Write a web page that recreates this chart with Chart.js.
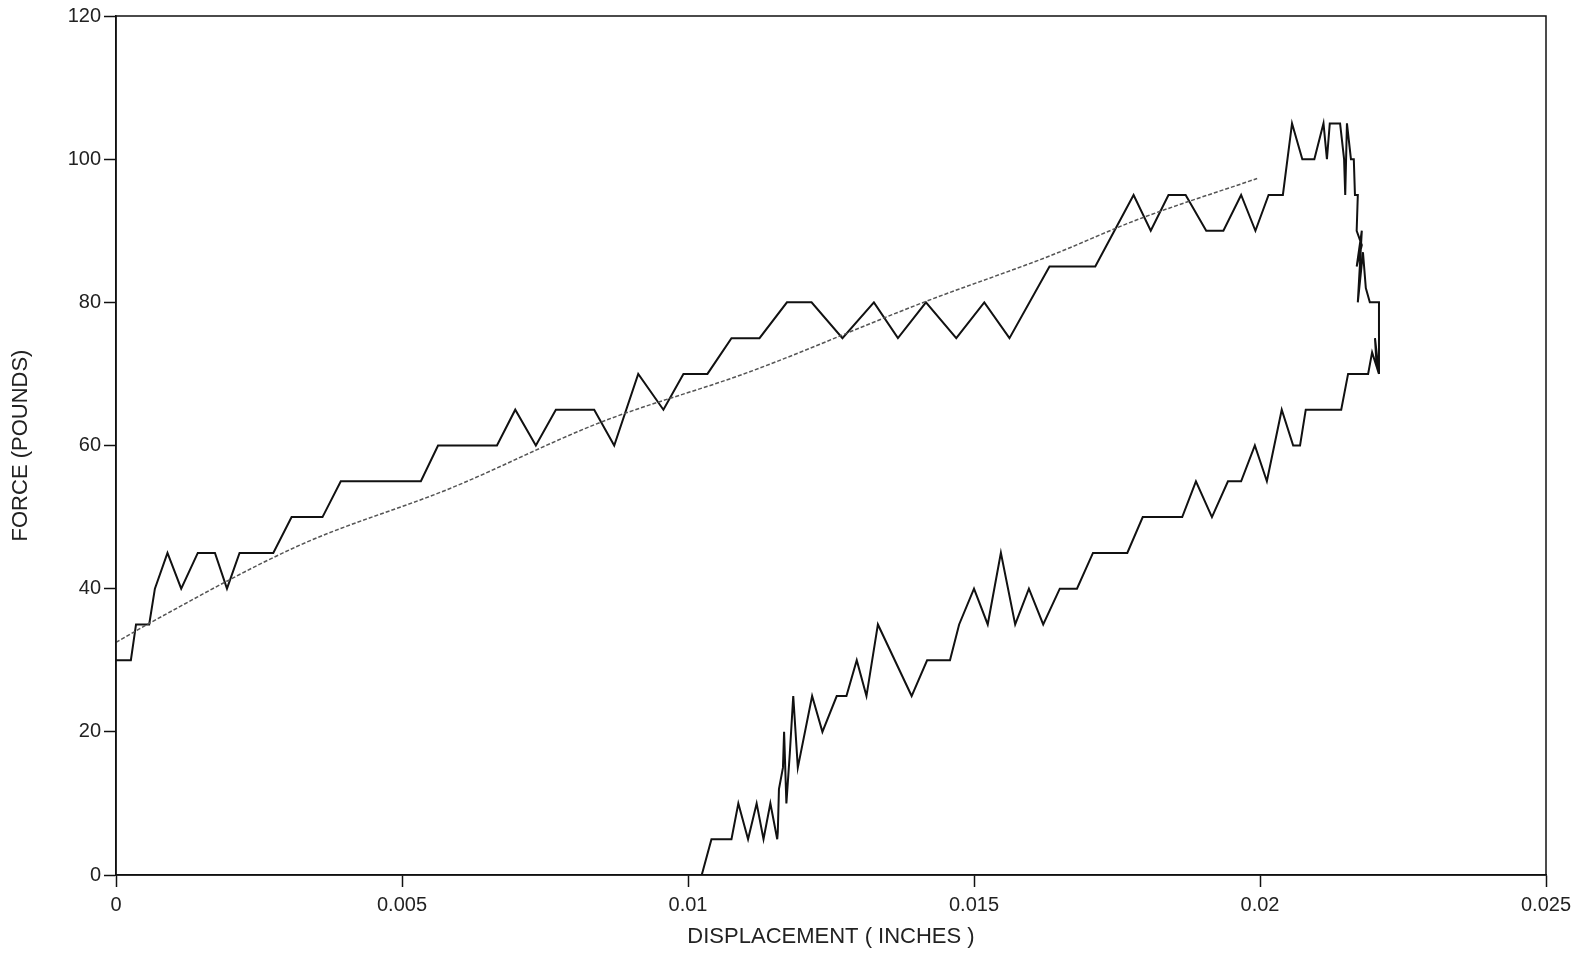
<!DOCTYPE html>
<html>
<head>
<meta charset="utf-8">
<title>Force vs displacement</title>
<script src="https://cdn.jsdelivr.net/npm/chart.js@4.4.1/dist/chart.umd.min.js"></script>
<style>
  html, body { margin: 0; padding: 0; background: #fff; }
  #wrap { width: 1591px; height: 956px; position: relative; }
</style>
</head>
<body>
<div id="wrap"><canvas id="myChart"></canvas></div>
<script>
// loading branch (displacement in inches, force in pounds)
const loadDisp = [0, 0.00026, 0.00035, 0.00058, 0.00068, 0.0009, 0.00114, 0.00143, 0.00173, 0.00194,
  0.00216, 0.00275, 0.00307, 0.00361, 0.00393, 0.00533, 0.00563, 0.00666, 0.00698, 0.00734,
  0.00769, 0.00836, 0.00871, 0.00913, 0.00957, 0.00992, 0.01034, 0.01076, 0.01125, 0.01173,
  0.01216, 0.0127, 0.01325, 0.01367, 0.01416, 0.01469, 0.01518, 0.01562, 0.01632, 0.01712,
  0.01779, 0.01809, 0.0184, 0.0187, 0.01906, 0.01936, 0.01967, 0.01992, 0.02015, 0.0204,
  0.02056, 0.02074, 0.02095, 0.02111, 0.02117, 0.02122, 0.0214, 0.02147, 0.02149, 0.02152,
  0.02159, 0.02164, 0.02166, 0.02171, 0.02169, 0.02178, 0.02169, 0.02178, 0.02171, 0.0218,
  0.02185, 0.02192, 0.02208, 0.02208];
const loadForce = [30, 30, 35, 35, 40, 45, 40, 45, 45, 40,
  45, 45, 50, 50, 55, 55, 60, 60, 65, 60,
  65, 65, 60, 70, 65, 70, 70, 75, 75, 80,
  80, 75, 80, 75, 80, 75, 80, 75, 85, 85,
  95, 90, 95, 95, 90, 90, 95, 90, 95, 95,
  105, 100, 100, 105, 100, 105, 105, 100, 95, 105,
  100, 100, 95, 95, 90, 88, 85, 90, 80, 87,
  82, 80, 80, 70];

// unloading branch, from the turn point back to zero force
const unloadDisp = [0.02208, 0.02201, 0.02204, 0.02196, 0.02189, 0.02154, 0.02142, 0.0208, 0.0207, 0.02058,
  0.02038, 0.02012, 0.01991, 0.01967, 0.01944, 0.01916, 0.01888, 0.01864, 0.01795, 0.01768,
  0.01708, 0.0168, 0.0165, 0.01621, 0.01596, 0.01572, 0.01547, 0.01524, 0.015, 0.01474,
  0.01458, 0.01418, 0.01391, 0.01332, 0.01312, 0.01295, 0.01277, 0.0126, 0.01235, 0.01217,
  0.01192, 0.01184, 0.01178, 0.01172, 0.01168, 0.01166, 0.01159, 0.01157, 0.01156, 0.01144,
  0.01132, 0.0112, 0.01105, 0.01088, 0.01076, 0.01041, 0.01024];
const unloadForce = [70, 75, 71, 73, 70, 70, 65, 65, 60, 60,
  65, 55, 60, 55, 55, 50, 55, 50, 50, 45,
  45, 40, 40, 35, 40, 35, 45, 35, 40, 35,
  30, 30, 25, 35, 25, 30, 25, 25, 20, 25,
  15, 25, 17, 10, 20, 15, 12, 6, 5, 10,
  5, 10, 5, 10, 5, 5, 0];

// fitted curve (dotted)
const fitDisp = [0, 0.00059, 0.00322, 0.00584, 0.00846, 0.01108, 0.01415, 0.01633, 0.01784, 0.01995];
const fitForce = [32.5, 35.2, 46.1, 54.0, 63.2, 70.3, 80.1, 86.5, 91.5, 97.3];

const xTicks = [0, 0.005, 0.01, 0.015, 0.02, 0.025];
const xTickLabels = ['0', '0.005', '0.01', '0.015', '0.02', '0.025'];
const yTicks = [0, 20, 40, 60, 80, 100, 120];
const yTickLabels = ['0', '20', '40', '60', '80', '100', '120'];

const pts = (xs, ys) => xs.map((x, i) => ({ x: x, y: ys[i] }));

// box around the plot area (top and right sides too)
const frame = {
  id: 'frame',
  afterDatasetsDraw(chart) {
    const a = chart.chartArea;
    const c = chart.ctx;
    c.save();
    c.strokeStyle = '#111';
    c.lineWidth = 1.5;
    c.strokeRect(a.left, a.top, a.right - a.left, a.bottom - a.top);
    c.restore();
  }
};

const font = { family: "'Liberation Sans', Arial, sans-serif", size: 20 };

new Chart(document.getElementById('myChart'), {
  type: 'scatter',
  data: {
    datasets: [
      {
        data: pts(fitDisp, fitForce),
        showLine: true,
        borderColor: '#555',
        borderWidth: 1.5,
        borderDash: [4, 2],
        pointRadius: 0,
        cubicInterpolationMode: 'monotone'
      },
      {
        data: pts(loadDisp, loadForce),
        showLine: true,
        borderColor: '#111',
        borderWidth: 2,
        pointRadius: 0,
        tension: 0
      },
      {
        data: pts(unloadDisp, unloadForce),
        showLine: true,
        borderColor: '#111',
        borderWidth: 2,
        pointRadius: 0,
        tension: 0
      }
    ]
  },
  options: {
    responsive: true,
    maintainAspectRatio: false,
    animation: false,
    layout: { padding: { top: 16, right: 45, left: 0, bottom: 0 } },
    plugins: {
      legend: { display: false },
      tooltip: { enabled: false }
    },
    scales: {
      x: {
        type: 'linear',
        min: 0,
        max: 0.025,
        afterFit: (s) => { s.height = 81; },
        afterBuildTicks: (s) => { s.ticks = xTicks.map(v => ({ value: v })); },
        ticks: {
          font: font,
          color: '#222',
          padding: 6,
          maxRotation: 0,
          callback: (v, i) => xTickLabels[i]
        },
        grid: { drawOnChartArea: false, tickLength: 12, tickColor: '#111', tickWidth: 1.5 },
        border: { color: '#111', width: 1.5 },
        title: {
          display: true,
          text: 'DISPLACEMENT ( INCHES )',
          font: { family: font.family, size: 22 },
          color: '#222',
          padding: { top: 4, bottom: 6 }
        }
      },
      y: {
        type: 'linear',
        min: 0,
        max: 120,
        afterFit: (s) => { s.width = 116; },
        afterBuildTicks: (s) => { s.ticks = yTicks.map(v => ({ value: v })); },
        ticks: {
          font: font,
          color: '#222',
          padding: 3,
          callback: (v, i) => yTickLabels[i]
        },
        grid: { drawOnChartArea: false, tickLength: 12, tickColor: '#111', tickWidth: 1.5 },
        border: { color: '#111', width: 1.5 },
        title: {
          display: true,
          text: 'FORCE (POUNDS)',
          font: { family: font.family, size: 22 },
          color: '#222',
          padding: { top: 8, bottom: 0 }
        }
      }
    }
  },
  plugins: [frame]
});
</script>
</body>
</html>
